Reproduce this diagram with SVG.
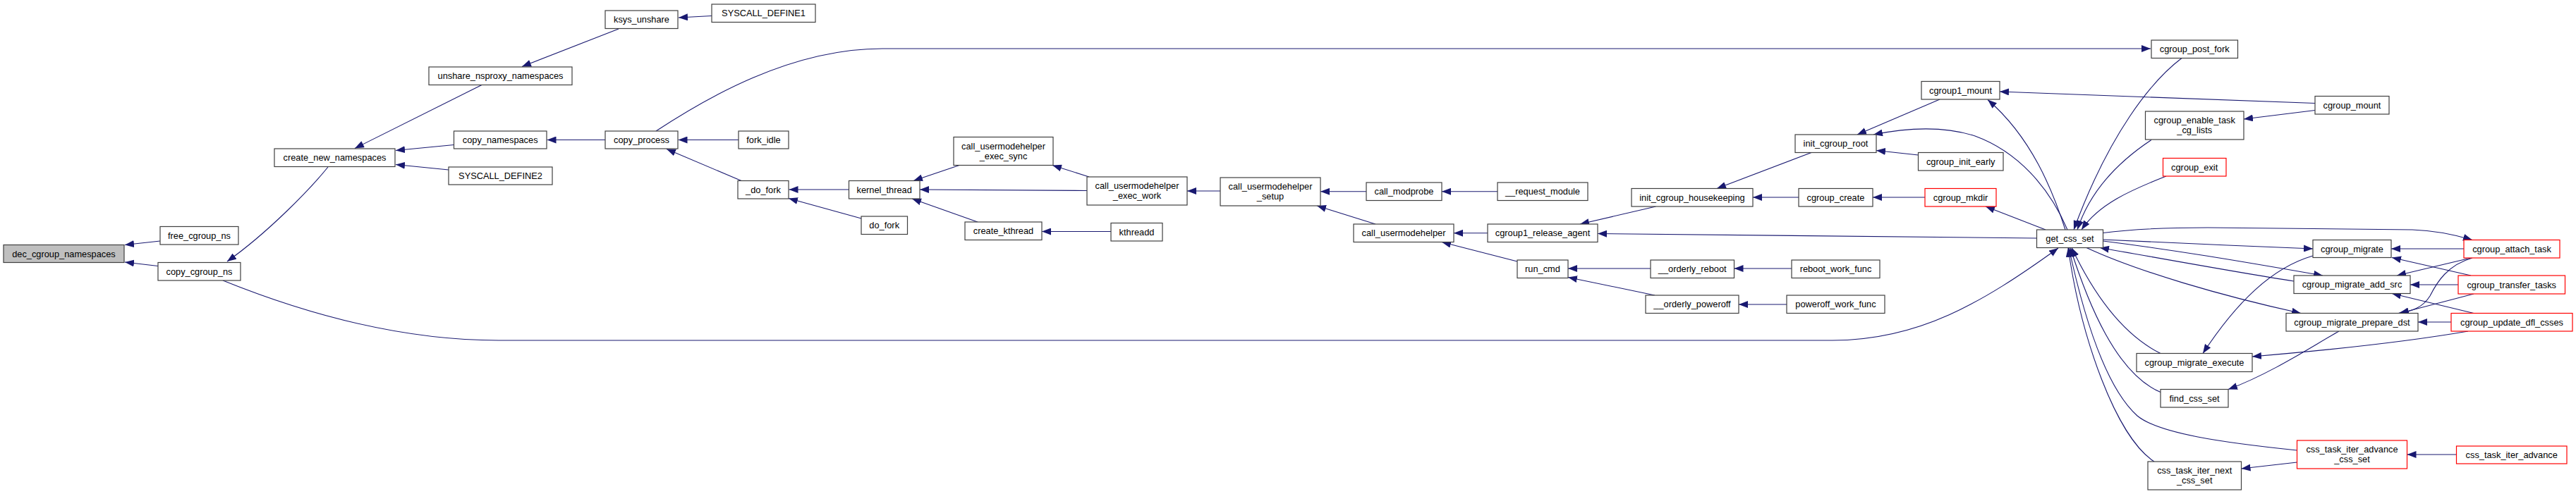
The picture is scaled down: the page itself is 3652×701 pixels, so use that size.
<svg xmlns="http://www.w3.org/2000/svg" width="3652" height="701" viewBox="0 0 3652 701">
<style>
.n rect{fill:#fff;stroke:#404040;stroke-width:1.2}
.r rect{fill:#fff;stroke:#ff0000;stroke-width:1.2}
.g rect{fill:#bfbfbf;stroke:#404040;stroke-width:1.2}
text{font-family:"Liberation Sans",Arial,Helvetica,sans-serif;font-size:12.8px;text-anchor:middle;fill:#000}
#edges path{fill:none;stroke:#191970;stroke-width:1.1;marker-end:url(#a)}
</style>
<defs>
<marker id="a" markerUnits="userSpaceOnUse" markerWidth="14" markerHeight="10" refX="13" refY="5" orient="auto"><path d="M0,0 L13,5 L0,10 z" fill="#191970"/></marker>
</defs>
<rect width="3652" height="701" fill="#fff"/>
<g id="edges">
<path d="M227,342 L177,347.5"/>
<path d="M224,377.5 L177,372"/>
<path d="M465,237 C440,268 380,330 322,371"/>
<path d="M316,398 C420,440 560,483 707,483 L2598,483 C2720,483 2810,430 2918,352"/>
<path d="M930,186 C1000,140 1120,69 1251,69 L3049,69"/>
<path d="M683,120.5 L503,210.5"/>
<path d="M643.5,205.5 L561,213.5"/>
<path d="M636,241 L561,233.5"/>
<path d="M877,41 L740,94.5"/>
<path d="M1009,22.5 L962,25"/>
<path d="M858,198.5 L775.5,198.5"/>
<path d="M1047,198.5 L961.5,198.5"/>
<path d="M1051,256.5 L945,211.5"/>
<path d="M1203.5,269 L1118.5,269"/>
<path d="M1221,310 L1118,281.5"/>
<path d="M1360,234.5 L1295,256.5"/>
<path d="M1541,270.5 L1304,269"/>
<path d="M1386,315 L1293,282"/>
<path d="M1544,251 L1492,234.5"/>
<path d="M1575,328.5 L1477,328.5"/>
<path d="M1730,271 L1683,271"/>
<path d="M1937,271.8 L1872,271.8"/>
<path d="M1950,318 L1867,292"/>
<path d="M2123,271.8 L2044,271.8"/>
<path d="M2109,330.8 L2061,330.8"/>
<path d="M2151,371 L2044,343.5"/>
<path d="M2347.5,293 L2240,318"/>
<path d="M2887.5,338 L2265,331.5"/>
<path d="M2340,381 L2223,381"/>
<path d="M2346,419 L2223,393.5"/>
<path d="M2568,216.5 L2434,267.5"/>
<path d="M2550,280 L2485,280"/>
<path d="M2540,381 L2458.5,381"/>
<path d="M2533,432 L2465,432"/>
<path d="M2750,141 L2633,191"/>
<path d="M2931,326 C2905,265 2860,215 2800,193 C2760,180 2710,180 2656,191"/>
<path d="M2928,326 C2910,270 2880,195 2818,141.5"/>
<path d="M2719.5,220 L2660,213.5"/>
<path d="M2729,280 L2655,280"/>
<path d="M2900,326 L2815,293"/>
<path d="M3282,146.5 L2835,130"/>
<path d="M3093,82.5 C3050,115 2990,190 2940,326"/>
<path d="M3050,198.5 C3010,225 2965,265 2945,326"/>
<path d="M3071,250 C3020,270 2975,290 2951,326"/>
<path d="M3282,156.5 L3181,169"/>
<path d="M2981.5,330.5 C3030,324 3080,323 3130,323 L3420,326 C3450,327 3480,333 3505,340.5"/>
<path d="M2981.5,340 C3080,345 3180,349 3279,353"/>
<path d="M2981.5,342 C3100,357 3200,375 3293,391"/>
<path d="M3252,399 C3180,388 3060,366 2977,351.5"/>
<path d="M2958,351.5 C3030,385 3150,420 3262,444.5"/>
<path d="M3493,353 L3390,353"/>
<path d="M3503,391 L3391,365.5"/>
<path d="M3503,366 L3398,391"/>
<path d="M3485,404 L3417,404"/>
<path d="M3507,444.5 L3391,416.5"/>
<path d="M3505,366 C3470,376 3455,400 3445,420 C3435,436 3420,442 3400,444.5"/>
<path d="M3507,417 L3402,444.5"/>
<path d="M3475,457 L3428,457"/>
<path d="M3279,363 C3220,380 3170,430 3123,501.5"/>
<path d="M3499,470 C3400,487 3300,497 3193,506"/>
<path d="M3316,470 C3280,490 3220,530 3159,552.5"/>
<path d="M3482.5,645 L3412.5,645"/>
<path d="M3256.5,656 L3177.5,665"/>
<path d="M3063,501.5 C3000,470 2960,400 2937,351.5"/>
<path d="M3063,556.5 C3000,530 2960,430 2935,351.5"/>
<path d="M3256.5,639 C3150,628 3060,615 3030,590 C2980,545 2950,430 2933,351.5"/>
<path d="M3054,655 C3000,620 2950,480 2932,351.5"/>
</g>
<g id="dec_cgroup_namespaces" class="g"><rect x="5" y="347.5" width="171" height="25"/><text x="90.5" y="364.5">dec_cgroup_namespaces</text></g>
<g id="free_cgroup_ns" class="n"><rect x="227" y="321.5" width="111" height="25.5"/><text x="282.5" y="338.7">free_cgroup_ns</text></g>
<g id="copy_cgroup_ns" class="n"><rect x="224" y="372.5" width="117" height="25.5"/><text x="282.5" y="389.7">copy_cgroup_ns</text></g>
<g id="create_new_namespaces" class="n"><rect x="389" y="211" width="171" height="25.5"/><text x="474.5" y="228.2">create_new_namespaces</text></g>
<g id="ksys_unshare" class="n"><rect x="858" y="15" width="103" height="25.5"/><text x="909.5" y="32.2">ksys_unshare</text></g>
<g id="SYSCALL_DEFINE1" class="n"><rect x="1009" y="6" width="147" height="25.5"/><text x="1082.5" y="23.2">SYSCALL_DEFINE1</text></g>
<g id="unshare_nsproxy_namespaces" class="n"><rect x="608" y="95" width="203" height="25.5"/><text x="709.5" y="112.2">unshare_nsproxy_namespaces</text></g>
<g id="copy_namespaces" class="n"><rect x="643.5" y="186" width="131.5" height="25"/><text x="709.2" y="203">copy_namespaces</text></g>
<g id="SYSCALL_DEFINE2" class="n"><rect x="636" y="237" width="147" height="25"/><text x="709.5" y="254">SYSCALL_DEFINE2</text></g>
<g id="copy_process" class="n"><rect x="858" y="186" width="103" height="25"/><text x="909.5" y="203">copy_process</text></g>
<g id="fork_idle" class="n"><rect x="1047" y="186" width="71" height="25"/><text x="1082.5" y="203">fork_idle</text></g>
<g id="_do_fork" class="n"><rect x="1046" y="256.5" width="72" height="25.5"/><text x="1082" y="273.7">_do_fork</text></g>
<g id="kernel_thread" class="n"><rect x="1203.5" y="256.5" width="100.5" height="25.5"/><text x="1253.7" y="273.7">kernel_thread</text></g>
<g id="do_fork" class="n"><rect x="1221" y="307" width="65.5" height="25.5"/><text x="1253.7" y="324.2">do_fork</text></g>
<g id="call_usermodehelper_exec_sync" class="n"><rect x="1352" y="194.5" width="141" height="40"/><text x="1422.5" y="211.5">call_usermodehelper</text><text x="1422.5" y="225.8">_exec_sync</text></g>
<g id="call_usermodehelper_exec_work" class="n"><rect x="1541" y="251" width="142" height="40"/><text x="1612" y="268">call_usermodehelper</text><text x="1612" y="282.3">_exec_work</text></g>
<g id="create_kthread" class="n"><rect x="1368" y="315" width="109" height="25.5"/><text x="1422.5" y="332.2">create_kthread</text></g>
<g id="kthreadd" class="n"><rect x="1575" y="316.5" width="73" height="25.5"/><text x="1611.5" y="333.7">kthreadd</text></g>
<g id="call_usermodehelper_setup" class="n"><rect x="1730" y="252" width="142" height="40"/><text x="1801" y="269">call_usermodehelper</text><text x="1801" y="283.3">_setup</text></g>
<g id="call_modprobe" class="n"><rect x="1937" y="259" width="107" height="25.5"/><text x="1990.5" y="276.2">call_modprobe</text></g>
<g id="__request_module" class="n"><rect x="2123" y="259" width="128" height="25.5"/><text x="2187" y="276.2">__request_module</text></g>
<g id="call_usermodehelper" class="n"><rect x="1919" y="318" width="142" height="25.5"/><text x="1990" y="335.2">call_usermodehelper</text></g>
<g id="cgroup1_release_agent" class="n"><rect x="2109" y="318" width="156" height="25.5"/><text x="2187" y="335.2">cgroup1_release_agent</text></g>
<g id="run_cmd" class="n"><rect x="2151" y="369" width="72" height="25.5"/><text x="2187" y="386.2">run_cmd</text></g>
<g id="init_cgroup_housekeeping" class="n"><rect x="2313" y="267.5" width="172" height="25.5"/><text x="2399" y="284.7">init_cgroup_housekeeping</text></g>
<g id="__orderly_reboot" class="n"><rect x="2340" y="369" width="118.5" height="25.5"/><text x="2399.2" y="386.2">__orderly_reboot</text></g>
<g id="__orderly_poweroff" class="n"><rect x="2333" y="419" width="132" height="25.5"/><text x="2399" y="436.2">__orderly_poweroff</text></g>
<g id="cgroup1_mount" class="n"><rect x="2724" y="115.5" width="111" height="25.5"/><text x="2779.5" y="132.7">cgroup1_mount</text></g>
<g id="init_cgroup_root" class="n"><rect x="2545" y="191" width="115" height="25.5"/><text x="2602.5" y="208.2">init_cgroup_root</text></g>
<g id="cgroup_init_early" class="n"><rect x="2719.5" y="216.5" width="120.5" height="25.5"/><text x="2779.7" y="233.7">cgroup_init_early</text></g>
<g id="cgroup_create" class="n"><rect x="2550" y="267.5" width="105" height="25.5"/><text x="2602.5" y="284.7">cgroup_create</text></g>
<g id="cgroup_mkdir" class="r"><rect x="2729" y="267.5" width="101" height="25.5"/><text x="2779.5" y="284.7">cgroup_mkdir</text></g>
<g id="get_css_set" class="n"><rect x="2887.5" y="326" width="94" height="25.5"/><text x="2934.5" y="343.2">get_css_set</text></g>
<g id="reboot_work_func" class="n"><rect x="2540" y="369" width="125" height="25.5"/><text x="2602.5" y="386.2">reboot_work_func</text></g>
<g id="poweroff_work_func" class="n"><rect x="2533" y="419" width="139" height="25.5"/><text x="2602.5" y="436.2">poweroff_work_func</text></g>
<g id="cgroup_post_fork" class="n"><rect x="3050" y="57" width="122.5" height="25.5"/><text x="3111.2" y="74.2">cgroup_post_fork</text></g>
<g id="cgroup_mount" class="n"><rect x="3282" y="136.5" width="105" height="25.5"/><text x="3334.5" y="153.7">cgroup_mount</text></g>
<g id="cgroup_enable_task_cg_lists" class="n"><rect x="3041.5" y="158" width="139.5" height="40"/><text x="3111.2" y="175">cgroup_enable_task</text><text x="3111.2" y="189.3">_cg_lists</text></g>
<g id="cgroup_exit" class="r"><rect x="3066.5" y="224.5" width="89.5" height="25.5"/><text x="3111.2" y="241.7">cgroup_exit</text></g>
<g id="cgroup_migrate" class="n"><rect x="3279" y="340.5" width="111" height="25"/><text x="3334.5" y="357.5">cgroup_migrate</text></g>
<g id="cgroup_attach_task" class="r"><rect x="3493" y="340.5" width="136" height="25.5"/><text x="3561" y="357.7">cgroup_attach_task</text></g>
<g id="cgroup_migrate_add_src" class="n"><rect x="3252" y="391" width="165" height="25.5"/><text x="3334.5" y="408.2">cgroup_migrate_add_src</text></g>
<g id="cgroup_transfer_tasks" class="r"><rect x="3485" y="391" width="151.5" height="26"/><text x="3560.7" y="408.5">cgroup_transfer_tasks</text></g>
<g id="cgroup_migrate_prepare_dst" class="n"><rect x="3241" y="444.5" width="187" height="25.5"/><text x="3334.5" y="461.7">cgroup_migrate_prepare_dst</text></g>
<g id="cgroup_update_dfl_csses" class="r"><rect x="3475" y="444.5" width="172" height="25.5"/><text x="3561" y="461.7">cgroup_update_dfl_csses</text></g>
<g id="cgroup_migrate_execute" class="n"><rect x="3029" y="501.5" width="164" height="26"/><text x="3111" y="519">cgroup_migrate_execute</text></g>
<g id="find_css_set" class="n"><rect x="3063" y="552.5" width="96" height="25.5"/><text x="3111" y="569.7">find_css_set</text></g>
<g id="css_task_iter_advance_css_set" class="r"><rect x="3256.5" y="625" width="156" height="40"/><text x="3334.5" y="642">css_task_iter_advance</text><text x="3334.5" y="656.3">_css_set</text></g>
<g id="css_task_iter_advance" class="r"><rect x="3482.5" y="633" width="156.5" height="25"/><text x="3560.7" y="650">css_task_iter_advance</text></g>
<g id="css_task_iter_next_css_set" class="n"><rect x="3045" y="655" width="132.5" height="40"/><text x="3111.2" y="672">css_task_iter_next</text><text x="3111.2" y="686.3">_css_set</text></g>
</svg>
